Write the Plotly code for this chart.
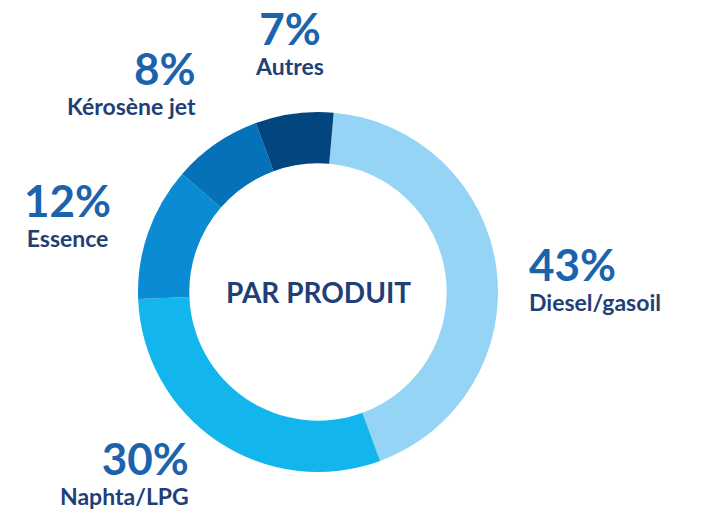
import plotly.graph_objects as go

labels = ["Diesel/gasoil", "Naphta/LPG", "Essence", "Kérosène jet", "Autres"]
values = [43, 30, 12, 8, 7]
pct_text = ["43%", "30%", "12%", "8%", "7%"]
colors = ["#96d4f6", "#12b6ec", "#0a8bd3", "#0571b8", "#02457f"]

W, H = 709, 515
fig = go.Figure(go.Pie(
    labels=labels, values=values, sort=False, direction="clockwise",
    rotation=5, hole=0.715, textinfo="none", hoverinfo="label+percent",
    marker=dict(colors=colors, line=dict(width=0)),
    domain=dict(x=[138 / W, 498 / W], y=[43 / H, 403 / H]),
))

PCT = "#1b63ad"
LAB = "#1f3f76"
FONT = "Lato"
# (x, label baseline y, anchor) in pixels
pos = {
    "Diesel/gasoil": (527, 312, "left"),
    "Naphta/LPG": (191, 506, "right"),
    "Essence": (67, 248, "center"),
    "Kérosène jet": (198, 116, "right"),
    "Autres": (289, 76, "center"),
}
ann = []
for lab, pt in zip(labels, pct_text):
    x, yb, a = pos[lab]
    txt = (f"<span style='font-size:44px;color:{PCT}'>{pt}</span><br>"
           f"<span style='font-size:23px;color:{LAB}'>{lab}</span>")
    ann.append(dict(x=x / W, y=1 - (yb + 6) / H, xref="paper", yref="paper", text=txt,
                    showarrow=False, xanchor=a, yanchor="bottom", align=a,
                    font=dict(family=FONT, size=23, color=LAB, weight=700)))
ann.append(dict(x=318 / W, y=1 - 292 / H, xref="paper", yref="paper", text="PAR PRODUIT",
                showarrow=False, xanchor="center", yanchor="middle",
                font=dict(family=FONT, size=28, color=LAB, weight=700)))

fig.update_layout(width=W, height=H, margin=dict(l=0, r=0, t=0, b=0),
                  showlegend=False, paper_bgcolor="white", plot_bgcolor="white",
                  annotations=ann)
fig.write_html("out.html", config={"displayModeBar": False},
               post_script="document.body.style.margin='0';")
